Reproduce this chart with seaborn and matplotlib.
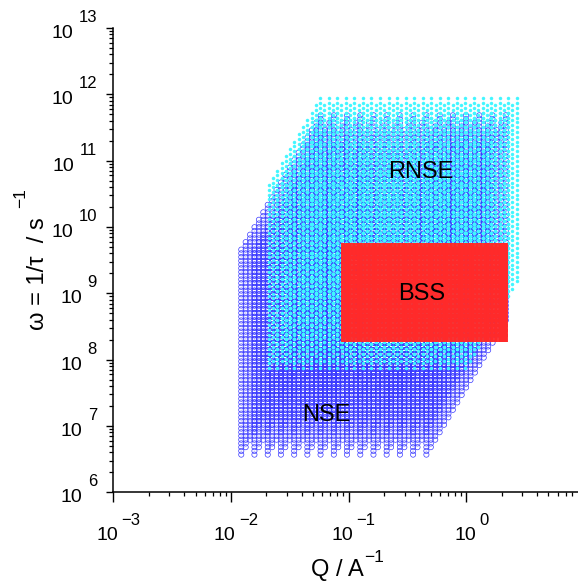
import numpy as np
import pandas as pd
import matplotlib
matplotlib.use("Agg")
import matplotlib.pyplot as plt
from matplotlib.ticker import LogLocator, NullFormatter
import seaborn as sns

# ---------------------------------------------------------------------------
# Coverage of the (Q, omega) plane by three spectrometers.
# Each instrument is sampled on a lattice: detector Q positions (at the longest
# wavelength), omega = 1/tau settings, and wavelength factors (log10 of
# lambda_max / lambda).  Q scales as 1/lambda and tau as lambda^3.
# ---------------------------------------------------------------------------

# NSE
nse_log_q = [-1.912, -1.800, -1.687, -1.575, -1.462, -1.350, -1.238, -1.125,
             -1.013, -0.900, -0.788, -0.676, -0.563, -0.451, -0.338]
nse_log_omega = [6.568, 6.624, 6.680, 6.737, 6.793, 6.849, 6.905, 6.961,
                 7.018, 7.074, 7.130, 7.186, 7.242, 7.299, 7.355, 7.411,
                 7.467, 7.523, 7.580, 7.636, 7.692, 7.748, 7.804, 7.861,
                 7.917, 7.973, 8.029, 8.085, 8.142, 8.198, 8.254, 8.310,
                 8.366, 8.423, 8.479, 8.535, 8.591, 8.647, 8.704, 8.760,
                 8.816, 8.872, 8.928, 8.985, 9.041, 9.097, 9.153, 9.209,
                 9.266, 9.322, 9.378, 9.434, 9.490, 9.547, 9.603, 9.659]
nse_log_scale = [0.0000, 0.0375, 0.0750, 0.1125, 0.1500, 0.1875, 0.2250,
                 0.2625, 0.3000, 0.3375, 0.3750, 0.4125, 0.4500, 0.4875,
                 0.5250, 0.5625, 0.6000, 0.6375, 0.6750]

# RNSE
rnse_log_q = [-1.678, -1.605, -1.533, -1.460, -1.387, -1.315, -1.242, -1.169,
              -1.096, -1.024, -0.951, -0.878, -0.806, -0.733, -0.660, -0.588,
              -0.515, -0.442, -0.369, -0.297, -0.224, -0.151, -0.079, -0.006]
rnse_log_omega = [7.870, 7.943, 8.015, 8.088, 8.161, 8.234, 8.306, 8.379,
                  8.452, 8.524, 8.597, 8.670, 8.742, 8.815, 8.888, 8.961,
                  9.033, 9.106, 9.179, 9.251, 9.324, 9.397, 9.469, 9.542,
                  9.615, 9.688, 9.760, 9.833, 9.906, 9.978, 10.051, 10.124,
                  10.196, 10.269, 10.342, 10.415, 10.487, 10.560, 10.633]
rnse_log_scale = [0.0000, 0.0364, 0.0727, 0.1091, 0.1454, 0.1818, 0.2181,
                  0.2545, 0.2908, 0.3272, 0.3635, 0.3999, 0.4362]

# BSS (fixed window)
bss_log_q = [-1.048, -1.016, -0.985, -0.953, -0.921, -0.890, -0.858, -0.826,
             -0.794, -0.763, -0.731, -0.699, -0.668, -0.636, -0.604, -0.572,
             -0.541, -0.509, -0.477, -0.446, -0.414, -0.382, -0.350, -0.319,
             -0.287, -0.255, -0.224, -0.192, -0.160, -0.128, -0.097, -0.065,
             -0.033, -0.002, 0.030, 0.062, 0.094, 0.125, 0.157, 0.189,
             0.220, 0.252, 0.284, 0.305, 0.320, 0.328, 0.335]
bss_log_omega = [8.330, 8.403, 8.476, 8.549, 8.622, 8.695, 8.768, 8.841,
                 8.914, 8.987, 9.060, 9.133, 9.206, 9.279, 9.352, 9.425,
                 9.498, 9.571, 9.644, 9.700]

# Region labels: (text, Q, omega)
region_labels = [("RNSE", 0.414, 6.8e10), ("BSS", 0.418, 9.8e8), ("NSE", 0.0644, 1.46e7)]

x_exponents = [-3, -2, -1, 0]
y_exponents = [6, 7, 8, 9, 10, 11, 12, 13]


def lattice(log_q, log_omega, log_scale, tau_power=3):
    """Points covered for every wavelength factor: Q*s, omega*s^3."""
    pts = set()
    for ls in log_scale:
        for lq in log_q:
            for lw in log_omega:
                pts.add((round(lq + ls, 4), round(lw + tau_power * ls, 4)))
    arr = np.array(sorted(pts))
    return pd.DataFrame({"Q": 10.0 ** arr[:, 0], "omega": 10.0 ** arr[:, 1]})


nse = lattice(nse_log_q, nse_log_omega, nse_log_scale)
rnse = lattice(rnse_log_q, rnse_log_omega, rnse_log_scale)
bss = lattice(bss_log_q, bss_log_omega, [0.0])

sns.set_theme(style="ticks")
plt.rcParams["font.family"] = ["Liberation Sans", "DejaVu Sans"]
plt.rcParams["axes.linewidth"] = 1.1

W, H = 578, 586
fig = plt.figure(figsize=(W / 100, H / 100), dpi=100)
ax = fig.add_axes([113.3 / W, (H - 492.3) / H, 1 - 113.3 / W, (492.3 - 28.0) / H])
ax.set_xscale("log")
ax.set_yscale("log")

sns.scatterplot(data=nse, x="Q", y="omega", ax=ax, marker="o", s=14,
                facecolor="none", edgecolor="#3a3aff", linewidth=0.5,
                legend=False)
sns.scatterplot(data=rnse, x="Q", y="omega", ax=ax, marker="o", s=4.6,
                facecolor="#40f6ff", edgecolor="#40f6ff", linewidth=0.35,
                legend=False)
sns.scatterplot(data=bss, x="Q", y="omega", ax=ax, marker="|", s=36,
                color="#ff2a2a", linewidth=2.8, alpha=1.0, legend=False)

for text, q, w in region_labels:
    ax.text(q, w, text, ha="center", va="center", fontsize=17, color="black")

ax.set_xlim(1e-3, 10 ** 0.951)
ax.set_ylim(1e6, 1e13)
ax.set_xlabel("")
ax.set_ylabel("")
sns.despine(ax=ax)
for side in ("left", "bottom"):
    ax.spines[side].set_color("black")

ax.xaxis.set_major_locator(LogLocator(base=10, numticks=20))
ax.yaxis.set_major_locator(LogLocator(base=10, numticks=20))
ax.xaxis.set_minor_locator(LogLocator(base=10, subs=range(2, 10), numticks=20))
ax.yaxis.set_minor_locator(LogLocator(base=10, subs=range(2, 10), numticks=20))
ax.xaxis.set_major_formatter(NullFormatter())
ax.yaxis.set_major_formatter(NullFormatter())
ax.xaxis.set_minor_formatter(NullFormatter())
ax.yaxis.set_minor_formatter(NullFormatter())
ax.tick_params(axis="x", which="major", direction="out", length=7, width=1.0, color="black")
ax.tick_params(axis="x", which="minor", direction="out", length=3, width=0.9, color="black")
ax.tick_params(axis="y", which="major", direction="out", length=5, width=1.0, color="black")
ax.tick_params(axis="y", which="minor", direction="out", length=3, width=0.9, color="black")

fig.canvas.draw()
renderer = fig.canvas.get_renderer()


def power_text(x, y, s, size, **kw):
    return fig.text(x / W, y / H, s, fontsize=size, color="black", **kw)


# y tick labels: "10" with a raised exponent, right-aligned block
for e in y_exponents:
    _, yd = ax.transData.transform((1e-3, 10.0 ** e))
    t_exp = power_text(97, yd + 6, str(e), 12, ha="right", va="baseline")
    w_exp = t_exp.get_window_extent(renderer).width
    power_text(97 - w_exp - 5, yd - 10, "10", 14, ha="right", va="baseline")

# x tick labels
for e in x_exponents:
    xd, _ = ax.transData.transform((10.0 ** e, 1e6))
    s_exp = str(e).replace("-", "\u2212")
    t_base = power_text(0, H - 540, "10", 14, ha="left", va="baseline")
    t_exp = power_text(0, H - 525, s_exp, 12, ha="left", va="baseline")
    w_base = t_base.get_window_extent(renderer).width
    w_exp = t_exp.get_window_extent(renderer).width
    left = xd + 5 - (w_base + 3 + w_exp) / 2
    t_base.set_x(left / W)
    t_exp.set_x((left + w_base + 3) / W)

# x axis title
t_q = power_text(337, H - 576, "Q / A", 17, ha="center", va="baseline")
bb = t_q.get_window_extent(renderer)
power_text(bb.x1 + 1, H - 562, "\u22121", 12.5, ha="left", va="baseline")

# y axis title
fig.text(44 / W, (H - 217) / H, "\u03c9 = 1/\u03c4  / s", fontsize=17,
         rotation=90, rotation_mode="anchor", ha="right", va="baseline",
         color="black")
fig.text(25 / W, (H - 208) / H, "\u22121", fontsize=12.5, rotation=90,
         rotation_mode="anchor", ha="left", va="baseline", color="black")

fig.savefig("out.png", dpi=100)
